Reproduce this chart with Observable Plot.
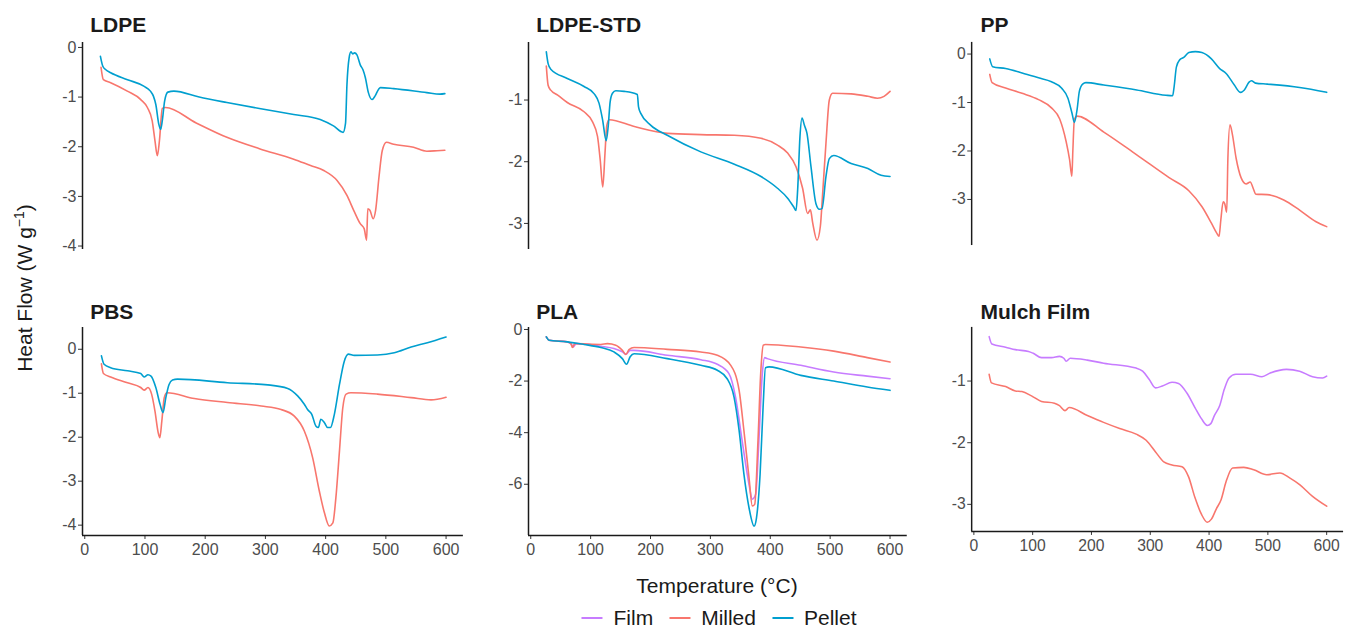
<!DOCTYPE html>
<html>
<head>
<meta charset="utf-8">
<script src="https://cdn.jsdelivr.net/npm/d3@7"></script>
<script src="https://cdn.jsdelivr.net/npm/@observablehq/plot@0.6"></script>
<style>
  html, body { margin: 0; padding: 0; background: #fff; }
  body { width: 1348px; height: 628px; overflow: hidden; position: relative;
         font-family: "Liberation Sans", Arial, Helvetica, sans-serif; color: #1a1a1a; }
  .panel { position: absolute; }
  .ptitle { position: absolute; font-weight: bold; font-size: 21px; line-height: 21px; color: #1a1a1a; white-space: nowrap; }
  #ytitle { position: absolute; left: 24px; top: 288px; font-size: 21px; line-height: 21px; white-space: nowrap;
            transform: translate(-50%, -50%) rotate(-90deg); }
  #ytitle sup { font-size: 14px; vertical-align: 8px; line-height: 0; }
  #xtitle { position: absolute; left: 717px; top: 575px; font-size: 21px; line-height: 21px; transform: translateX(-50%); white-space: nowrap; }
  #legend { position: absolute; left: 719px; top: 607px; transform: translateX(-50%); display: flex; align-items: center;
            font-size: 21px; line-height: 21px; white-space: nowrap; }
  #legend .item { display: flex; align-items: center; margin-right: 16px; }
  #legend .item:last-child { margin-right: 0; }
  #legend .key { width: 21px; height: 2px; margin-right: 11px; }
</style>
</head>
<body>
<div id="ytitle">Heat Flow (W g<sup>−1</sup>)</div>
<div id="xtitle">Temperature (°C)</div>
<div id="legend"></div>
<script>
// ---------- data: [temperature °C, heat flow W/g] ----------
const seriesNames = ["Film", "Milled", "Pellet"];
const seriesColors = ["#C77CFF", "#F8766D", "#009FCF"];
const panelNames = ["LDPE", "LDPE-STD", "PP", "PBS", "PLA", "Mulch Film"];
const xTicks = [0, 100, 200, 300, 400, 500, 600];
const tempRange = [25, 600];

const ldpePellet = [[26,-0.18],[30,-0.38],[35,-0.45],[43,-0.51],[71,-0.65],[98,-0.78],[109,-0.88],[114,-0.98],[118,-1.15],[123,-1.55],[126,-1.65],[128.7,-1.48],[132.6,-1.08],[138,-0.90],[148,-0.88],[190,-1.00],[236,-1.11],[290,-1.23],[347,-1.35],[391,-1.45],[413,-1.58],[429,-1.71],[433,-1.53],[435.4,-0.75],[439,-0.21],[442,-0.09],[445,-0.13],[448,-0.11],[452,-0.15],[457.5,-0.35],[462,-0.45],[466,-0.61],[471,-0.91],[477,-1.05],[482,-0.98],[488,-0.84],[491,-0.81],[513,-0.83],[568,-0.91],[590,-0.94],[598,-0.93]];
const ldpeMilled = [[27,-0.40],[30.9,-0.65],[43,-0.71],[70.7,-0.88],[93,-1.05],[104,-1.21],[112,-1.48],[116.6,-1.88],[120.5,-2.18],[124,-1.88],[128.7,-1.23],[134,-1.21],[185,-1.52],[236,-1.81],[290,-2.04],[347,-2.25],[375,-2.38],[397,-2.48],[419,-2.68],[435.4,-2.98],[446.6,-3.28],[457.5,-3.55],[464,-3.65],[468,-3.88],[470,-3.25],[473.5,-3.28],[479,-3.45],[483,-3.28],[488.6,-2.61],[494,-2.08],[501,-1.91],[513,-1.95],[546,-2.01],[568,-2.09],[585,-2.08],[598,-2.07]];

const stdPellet = [[26,-0.22],[29,-0.41],[33.4,-0.50],[61,-0.65],[89,-0.78],[106,-0.90],[114,-1.05],[120,-1.32],[126,-1.66],[129.3,-1.43],[132.6,-1.03],[136.5,-0.89],[142,-0.85],[156,-0.86],[178,-0.91],[180,-1.11],[184,-1.22],[200.6,-1.41],[228,-1.57],[284,-1.84],[340,-2.04],[384.5,-2.24],[412,-2.43],[429,-2.59],[439,-2.73],[443,-2.79],[445.7,-2.46],[449.6,-1.59],[453,-1.29],[457,-1.41],[461.3,-1.54],[468,-2.08],[476.3,-2.68],[482,-2.77],[486.4,-2.76],[493,-2.24],[498.6,-1.95],[506,-1.90],[535,-2.03],[563,-2.11],[585,-2.22],[600,-2.24]];
const stdMilled = [[26,-0.45],[29,-0.76],[33.4,-0.84],[45,-0.92],[61,-1.04],[89,-1.19],[103,-1.35],[111.5,-1.59],[116,-1.97],[120.3,-2.41],[124,-1.86],[127,-1.41],[131,-1.32],[173,-1.43],[228.4,-1.54],[284,-1.56],[340,-1.57],[384.5,-1.62],[412,-1.73],[429,-1.86],[443,-2.08],[454,-2.43],[462.4,-2.84],[467,-2.78],[471,-3.00],[478,-3.27],[483.6,-3.05],[487.5,-2.51],[493,-1.70],[498.6,-1.00],[504,-0.89],[535,-0.90],[563,-0.94],[579,-0.97],[590,-0.94],[600,-0.86]];

const ppPellet = [[27,-0.10],[32,-0.26],[54,-0.30],[82,-0.39],[110,-0.49],[132,-0.57],[149,-0.70],[160,-0.91],[166.7,-1.21],[171,-1.41],[175.6,-1.14],[179.4,-0.77],[185,-0.62],[190.6,-0.59],[221,-0.64],[277,-0.74],[326.7,-0.85],[338,-0.86],[340.6,-0.67],[344.4,-0.27],[350,-0.12],[357,-0.07],[365.6,0.03],[376.7,0.05],[387.8,0.03],[404,-0.10],[418,-0.30],[429,-0.40],[443,-0.64],[453,-0.79],[460,-0.74],[468,-0.58],[472,-0.55],[479,-0.60],[499,-0.62],[554,-0.69],[600,-0.79]];
const ppMilled = [[27,-0.42],[31,-0.59],[54,-0.70],[82,-0.81],[110,-0.94],[132,-1.11],[146,-1.34],[157,-1.81],[162.8,-2.18],[166.7,-2.52],[168.3,-2.01],[171,-1.34],[175.6,-1.28],[221,-1.61],[277,-2.08],[332,-2.55],[365.6,-2.82],[388,-3.15],[404,-3.49],[412.8,-3.69],[417,-3.76],[420,-3.42],[424,-3.05],[426.7,-3.09],[430,-3.26],[432,-2.15],[435.6,-1.46],[439.4,-1.64],[446,-2.15],[454.4,-2.55],[463,-2.68],[470,-2.64],[475.6,-2.79],[479.4,-2.89],[499,-2.90],[527,-3.01],[554,-3.22],[582,-3.46],[600,-3.56]];

const pbsPellet = [[27.7,-0.15],[32,-0.34],[43,-0.42],[71,-0.49],[93,-0.55],[98.6,-0.63],[105,-0.58],[110,-0.61],[118,-0.87],[125,-1.25],[130,-1.44],[134.6,-1.10],[140,-0.80],[145.7,-0.70],[154,-0.68],[237,-0.76],[304,-0.81],[337,-0.89],[353.5,-1.06],[364.6,-1.25],[370,-1.37],[377,-1.48],[384,-1.75],[388,-1.78],[392,-1.59],[398,-1.67],[403.3,-1.78],[408,-1.78],[414.5,-1.48],[423,-0.80],[431,-0.27],[437.7,-0.11],[447.6,-0.14],[486,-0.13],[514,-0.08],[542,0.05],[569,0.15],[600,0.28]];
const pbsMilled = [[27.7,-0.33],[31,-0.55],[43,-0.63],[71,-0.76],[93,-0.87],[98.6,-0.93],[105,-0.87],[111,-1.02],[116.5,-1.40],[122,-1.90],[124.7,-2.01],[128,-1.63],[132,-1.10],[136.5,-0.99],[182,-1.12],[237,-1.21],[293,-1.29],[326,-1.37],[348,-1.52],[364.6,-1.86],[378.5,-2.47],[389.6,-3.23],[398,-3.72],[406,-4.02],[412,-3.95],[417,-3.38],[423,-2.31],[428.5,-1.33],[434,-1.02],[442,-0.99],[486,-1.02],[542,-1.10],[575,-1.15],[600,-1.09]];

const plaFilm = [[26,-0.29],[30.6,-0.42],[61,-0.48],[68,-0.57],[71,-0.68],[75.7,-0.55],[117,-0.65],[139,-0.74],[153,-0.87],[159,-0.96],[166,-0.81],[172.5,-0.81],[228,-1.00],[284,-1.17],[311.6,-1.35],[331,-1.71],[342,-2.62],[353,-4.31],[364.5,-6.00],[370,-6.58],[375.6,-6.39],[381,-4.31],[386.7,-1.71],[390.6,-1.09],[395,-1.13],[451,-1.39],[506,-1.65],[562,-1.81],[600,-1.91]];
const plaMilled = [[26,-0.29],[30.6,-0.42],[61,-0.48],[67,-0.55],[69.6,-0.70],[73.5,-0.55],[117,-0.58],[128,-0.55],[142,-0.61],[153,-0.81],[159,-0.97],[164,-0.78],[172.5,-0.70],[228,-0.77],[284,-0.87],[311.6,-1.00],[334,-1.39],[348,-2.36],[356,-3.92],[364.5,-5.74],[370,-6.84],[374,-6.78],[379.5,-4.31],[384,-1.71],[388.4,-0.61],[392,-0.58],[451,-0.68],[506,-0.84],[562,-1.09],[600,-1.26]];
const plaPellet = [[26,-0.29],[30.6,-0.42],[61,-0.48],[89,-0.58],[117,-0.70],[139,-0.87],[153,-1.13],[160,-1.35],[166,-1.06],[172.5,-0.94],[228,-1.13],[284,-1.39],[311.6,-1.58],[328,-1.91],[339.5,-2.62],[348,-3.92],[356,-5.61],[364.5,-6.91],[373,-7.62],[377,-7.30],[383,-5.61],[388,-3.01],[392,-1.48],[398,-1.45],[451,-1.78],[506,-2.00],[562,-2.23],[600,-2.36]];

const mulchFilm = [[26,-0.28],[30.6,-0.40],[54,-0.45],[70.6,-0.49],[93,-0.52],[101,-0.55],[115,-0.62],[132,-0.62],[145.6,-0.60],[153,-0.63],[157,-0.68],[164,-0.63],[193,-0.66],[220.6,-0.71],[276,-0.79],[287,-0.84],[298,-0.97],[309,-1.11],[320.6,-1.08],[337,-1.02],[348,-1.04],[362,-1.19],[376,-1.43],[387,-1.61],[397,-1.72],[403,-1.69],[409,-1.56],[418,-1.40],[426,-1.13],[434,-0.95],[445.6,-0.89],[470.6,-0.89],[490,-0.93],[504,-0.87],[531.7,-0.81],[554,-0.84],[576,-0.93],[593,-0.95],[600,-0.92]];
const mulchMilled = [[26,-0.89],[30,-1.03],[54,-1.09],[70.6,-1.16],[81.7,-1.17],[98,-1.24],[115,-1.33],[137,-1.36],[145.6,-1.40],[155,-1.48],[162,-1.43],[193,-1.56],[220.6,-1.67],[248,-1.77],[276,-1.86],[293,-1.96],[309,-2.15],[323,-2.31],[337,-2.36],[354,-2.39],[365,-2.55],[376,-2.89],[387,-3.16],[397,-3.29],[404,-3.24],[412,-3.08],[420.6,-2.92],[429,-2.63],[440,-2.41],[459,-2.40],[476,-2.44],[498,-2.52],[520.6,-2.49],[537,-2.57],[554,-2.68],[576,-2.87],[600,-3.03]];

const ldpeTicks = [0, -1, -2, -3, -4];
const stdTicks = [-1, -2, -3];
const ppTicks = [0, -1, -2, -3];
const pbsTicks = [0, -1, -2, -3, -4];
const plaTicks = [0, -2, -4, -6];
const mulchTicks = [-1, -2, -3];

// ---------- layout ----------
const colAreas = [[81.7, 462.6], [527.75, 906.5], [972, 1351]];
const rowAreas = [[42, 249], [327, 535]];
const ML = 45, MR = 5, MT = 5;

const panels = [
  {name: panelNames[0], series: {Milled: ldpeMilled, Pellet: ldpePellet}, ticks: ldpeTicks, col: 0, row: 0},
  {name: panelNames[1], series: {Milled: stdMilled, Pellet: stdPellet}, ticks: stdTicks, col: 1, row: 0},
  {name: panelNames[2], series: {Milled: ppMilled, Pellet: ppPellet}, ticks: ppTicks, col: 2, row: 0},
  {name: panelNames[3], series: {Milled: pbsMilled, Pellet: pbsPellet}, ticks: pbsTicks, col: 0, row: 1},
  {name: panelNames[4], series: {Film: plaFilm, Milled: plaMilled, Pellet: plaPellet}, ticks: plaTicks, col: 1, row: 1},
  {name: panelNames[5], series: {Film: mulchFilm, Milled: mulchMilled}, ticks: mulchTicks, col: 2, row: 1}
];

const xPad = (tempRange[1] - tempRange[0]) * 0.05;
const xDomain = [tempRange[0] - xPad, tempRange[1] + xPad];
const fmt = d => d < 0 ? "-" + (-d) : String(d);

for (const p of panels) {
  const rows = [];
  for (const s of seriesNames) {
    if (!p.series[s]) continue;
    for (const [T, v] of p.series[s]) rows.push({T, v, series: s});
  }
  const [vmin, vmax] = d3.extent(rows, d => d.v);
  const yPad = (vmax - vmin) * 0.05;
  const yDomain = [vmin - yPad, vmax + yPad];
  const bottom = p.row === 1;
  const [cl, cr] = colAreas[p.col];
  const [rt, rb] = rowAreas[p.row];
  const MB = bottom ? 30 : 5;
  const W = ML + (cr - cl) + MR;
  const H = MT + (rb - rt) + MB;

  const chart = Plot.plot({
    width: W, height: H,
    marginLeft: ML, marginRight: MR, marginTop: MT, marginBottom: MB,
    style: {fontFamily: '"Liberation Sans", Arial, sans-serif', background: "transparent", overflow: "visible"},
    x: {domain: xDomain, axis: null},
    y: {domain: yDomain, axis: null},
    color: {domain: seriesNames, range: seriesColors},
    marks: [
      Plot.axisY({ticks: p.ticks, tickFormat: fmt, tickSize: 4, tickPadding: 2, fontSize: 16,
                  fill: "#4D4D4D", stroke: "#333", strokeWidth: 1, label: null}),
      bottom ? Plot.axisX({ticks: xTicks, tickSize: 4, tickPadding: 4, fontSize: 16,
                           fill: "#4D4D4D", stroke: "#333", strokeWidth: 1, label: null}) : null,
      Plot.ruleX([xDomain[0]], {stroke: "#1a1a1a", strokeWidth: 1.5}),
      bottom ? Plot.ruleY([yDomain[0]], {stroke: "#1a1a1a", strokeWidth: 1.5}) : null,
      Plot.line(rows, {x: "T", y: "v", stroke: "series", z: "series", strokeWidth: 1.6, curve: "monotone-x"})
    ]
  });
  const holder = document.createElement("div");
  holder.className = "panel";
  holder.style.left = (cl - ML) + "px";
  holder.style.top = (rt - MT) + "px";
  holder.appendChild(chart);
  document.body.appendChild(holder);

  const t = document.createElement("div");
  t.className = "ptitle";
  t.textContent = p.name;
  t.style.left = (cl + 8.5) + "px";
  t.style.top = (p.row === 0 ? 14.2 : 300.7) + "px";
  document.body.appendChild(t);
}

// ---------- legend ----------
const legend = document.getElementById("legend");
seriesNames.forEach((s, i) => {
  const item = document.createElement("div");
  item.className = "item";
  const key = document.createElement("div");
  key.className = "key";
  key.style.background = seriesColors[i];
  const lab = document.createElement("span");
  lab.textContent = s;
  item.appendChild(key);
  item.appendChild(lab);
  legend.appendChild(item);
});
</script>
</body>
</html>
